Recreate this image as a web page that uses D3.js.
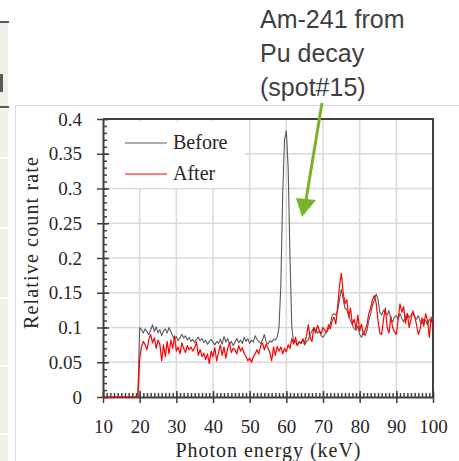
<!DOCTYPE html>
<html>
<head>
<meta charset="utf-8">
<script src="https://cdn.jsdelivr.net/npm/d3@7"></script>
<style>
  body { margin: 0; background: #fff; }
  svg { display: block; }
</style>
</head>
<body>
<svg id="chart" width="459" height="461"></svg>
<script>
// donnees (pas de 0.5 keV, de 10 a 100 keV)
let energieDebut = 10;
let energiePas = 0.5;

let avant = [
  0,0,0,0,0,0,0,0,0,0, 0,0,0,0,0,0,0,0,0,0,
  0.100,0.097,0.092,0.098,0.094,0.090,0.096,0.104,0.094,0.101,
  0.092,0.097,0.088,0.095,0.098,0.092,0.100,0.094,0.088,0.083,
  0.087,0.081,0.085,0.090,0.085,0.088,0.082,0.086,0.080,0.083,
  0.078,0.083,0.086,0.081,0.084,0.078,0.082,0.076,0.080,0.083,
  0.079,0.075,0.080,0.077,0.083,0.076,0.087,0.079,0.084,0.076,
  0.080,0.074,0.079,0.084,0.078,0.082,0.077,0.086,0.080,0.084,
  0.077,0.082,0.079,0.088,0.083,0.080,0.077,0.082,0.090,0.079,
  0.076,0.081,0.079,0.083,0.082,0.086,0.100,0.160,0.290,0.370,
  0.383,0.330,0.200,0.100,0.078,0.080,0.074,0.079,0.077,0.082,
  0.075,0.080,0.082,0.090,0.095,0.100,0.097,0.092,0.095,0.088,
  0.086,0.090,0.094,0.098,0.105,0.118,0.120,0.118,0.125,0.140,
  0.155,0.140,0.128,0.125,0.118,0.110,0.104,0.098,0.096,0.102,
  0.090,0.086,0.093,0.088,0.096,0.110,0.120,0.132,0.140,0.148,
  0.140,0.122,0.118,0.125,0.122,0.118,0.124,0.112,0.108,0.115,
  0.117,0.112,0.120,0.113,0.108,0.116,0.120,0.114,0.118,0.122,
  0.115,0.112,0.117,0.108,0.106,0.112,0.110,0.104,0.112,0.108,
  0.114
];

let apres = [
  0,0,0,0,0,0,0,0,0,0, 0,0,0,0,0,0,0,0,0,0,
  0.055,0.072,0.080,0.075,0.068,0.083,0.090,0.078,0.085,0.070,
  0.082,0.076,0.052,0.075,0.058,0.080,0.062,0.082,0.070,0.088,
  0.066,0.072,0.062,0.078,0.070,0.064,0.074,0.068,0.072,0.066,
  0.071,0.079,0.060,0.068,0.058,0.063,0.054,0.062,0.048,0.066,
  0.058,0.071,0.052,0.064,0.075,0.060,0.072,0.056,0.070,0.078,
  0.064,0.070,0.068,0.062,0.074,0.066,0.071,0.063,0.058,0.052,
  0.056,0.050,0.058,0.062,0.068,0.062,0.074,0.078,0.068,0.076,
  0.070,0.064,0.052,0.072,0.060,0.073,0.066,0.072,0.062,0.070,
  0.065,0.075,0.070,0.084,0.076,0.086,0.074,0.080,0.077,0.084,
  0.078,0.088,0.104,0.085,0.080,0.100,0.092,0.103,0.096,0.091,
  0.100,0.096,0.093,0.104,0.098,0.110,0.115,0.105,0.130,0.160,
  0.178,0.150,0.134,0.140,0.115,0.128,0.105,0.112,0.098,0.118,
  0.095,0.105,0.090,0.096,0.104,0.120,0.128,0.140,0.146,0.135,
  0.110,0.092,0.090,0.112,0.128,0.100,0.092,0.116,0.100,0.094,
  0.090,0.112,0.134,0.122,0.130,0.106,0.120,0.100,0.112,0.124,
  0.116,0.104,0.090,0.098,0.114,0.102,0.120,0.110,0.086,0.115,
  0.102
];

let ticksX = [10,20,30,40,50,60,70,80,90,100];
let ticksY = [0,0.05,0.1,0.15,0.2,0.25,0.3,0.35,0.4];
let legende = ["Before","After"];
let couleurs = ["#595959","#ff0000"];
let annotation = ["Am-241 from","Pu decay","(spot#15)"];

let police = "'Liberation Serif', serif";
let svg = d3.select("#chart");

//fond de la diapo a gauche
let bandeau = svg.append("g");
bandeau.append("rect").attr("x",0).attr("y",22).attr("width",8).attr("height",439).attr("fill","#edf1e8");
[107,157,227,297,365,433].forEach(function(yy){
  bandeau.append("rect").attr("x",0).attr("y",yy).attr("width",8).attr("height",2).attr("fill","#fff");
});
bandeau.append("rect").attr("x",0).attr("y",21).attr("width",9).attr("height",2).attr("fill","#595959");
bandeau.append("rect").attr("x",0).attr("y",106).attr("width",9).attr("height",2).attr("fill","#595959");
bandeau.append("rect").attr("x",0).attr("y",74).attr("width",3).attr("height",18).attr("fill","#595959");

//cadre du graphique
svg.append("path")
  .attr("d","M15.5,461 V105.5 H459")
  .attr("fill","none").attr("stroke","#d9d9d9").attr("stroke-width",1);

let x = d3.scaleLinear().domain([10,100]).range([103,433]);
let y = d3.scaleLinear().domain([0,0.4]).range([397,119]);

let data = avant.map(function(v,i){
  return {e: energieDebut + i*energiePas, avant: v, apres: apres[i]};
});

//grille
let grille = svg.append("g");
grille.selectAll(".gx").data(ticksX.slice(1,-1)).enter().append("line")
  .attr("x1",d=>x(d)).attr("x2",d=>x(d)).attr("y1",y(0.4)).attr("y2",y(0))
  .attr("stroke","#d9d9d9").attr("stroke-width",1.5);
grille.selectAll(".gy").data(ticksY.slice(1,-1)).enter().append("line")
  .attr("x1",x(10)).attr("x2",x(100)).attr("y1",d=>y(d)).attr("y2",d=>y(d))
  .attr("stroke","#d9d9d9").attr("stroke-width",1.5);

//cadre legende
svg.append("rect").attr("x",110).attr("y",121).attr("width",135).attr("height",67).attr("fill","#fff");

//bordure haut et droite
svg.append("path")
  .attr("d","M"+x(10)+","+y(0.4)+" H"+x(100)+" V"+y(0))
  .attr("fill","none").attr("stroke","#404040").attr("stroke-width",2);

//axes
let axeX = svg.append("g").attr("transform","translate(0,"+y(0)+")");
axeX.call(d3.axisBottom(x).tickValues(d3.range(10,101,1)).tickSize(-4).tickFormat(""));
axeX.call(g=>g.selectAll(".domain").remove());
let axeXmaj = svg.append("g").attr("transform","translate(0,"+y(0)+")")
  .call(d3.axisBottom(x).tickValues(ticksX).tickSizeInner(6).tickSizeOuter(0).tickPadding(24));
axeXmaj.selectAll(".tick line").attr("y1",-6);

let axeY = svg.append("g").attr("transform","translate("+x(10)+",0)");
axeY.call(d3.axisRight(y).tickValues(d3.range(0,0.401,0.01)).tickSize(4).tickFormat(""));
axeY.call(g=>g.selectAll(".domain").remove());
let axeYmaj = svg.append("g").attr("transform","translate("+x(10)+",0)")
  .call(d3.axisLeft(y).tickValues(ticksY).tickSizeInner(6).tickSizeOuter(0).tickPadding(15).tickFormat(d=>d3.format("")(d)));
axeYmaj.selectAll(".tick line").attr("x1",6);

svg.selectAll(".domain").attr("stroke","#404040").attr("stroke-width",2);
svg.selectAll(".tick line").attr("stroke","#404040").attr("stroke-width",1.5);
svg.selectAll(".tick text")
  .attr("font-family",police).attr("font-size",19).attr("fill","#262626");
axeXmaj.selectAll(".tick text").attr("dy","0.3em");

//courbes (par-dessus les axes)
let ligne = function(cle){
  return d3.line().x(d=>x(d.e)).y(d=>y(d[cle]));
};
svg.append("path").datum(data).attr("d",ligne("avant"))
  .attr("fill","none").attr("stroke",couleurs[0]).attr("stroke-width",1.1).attr("stroke-linejoin","round");
svg.append("path").datum(data).attr("d",ligne("apres"))
  .attr("fill","none").attr("stroke",couleurs[1]).attr("stroke-width",1.2).attr("stroke-linejoin","round");

//titres des axes
svg.append("text").attr("x",x(55)).attr("y",457)
  .attr("text-anchor","middle").attr("font-family",police)
  .attr("font-size",20).attr("textLength",185).attr("lengthAdjust","spacing")
  .attr("fill","#262626").text("Photon energy (keV)");
svg.append("text").attr("transform","translate(38,243) rotate(-90)")
  .attr("text-anchor","middle").attr("font-family",police)
  .attr("font-size",20).attr("textLength",172).attr("lengthAdjust","spacing")
  .attr("fill","#262626").text("Relative count rate");

//legende
legende.forEach(function(nom,i){
  let yy = 143 + i*31;
  svg.append("line").attr("x1",125).attr("x2",167).attr("y1",yy).attr("y2",yy)
    .attr("stroke",couleurs[i]).attr("stroke-width",1.2);
  svg.append("text").attr("x",173).attr("y",yy+6)
    .attr("font-family",police).attr("font-size",20)
    .attr("fill","#262626").text(nom);
});

//annotation
let annot = svg.append("text").attr("font-family","'Liberation Sans', Arial, sans-serif")
  .attr("font-size",25).attr("fill","#404040");
annotation.forEach(function(t,i){
  annot.append("tspan").attr("x",260).attr("y",28 + i*34).text(t);
});

//fleche verte
svg.append("line").attr("x1",322).attr("y1",103).attr("x2",306).attr("y2",200)
  .attr("stroke","#78b42a").attr("stroke-width",3);
svg.append("path").attr("d","M296,198 L316,200 L302,217 Z").attr("fill","#78b42a");
</script>
</body>
</html>
